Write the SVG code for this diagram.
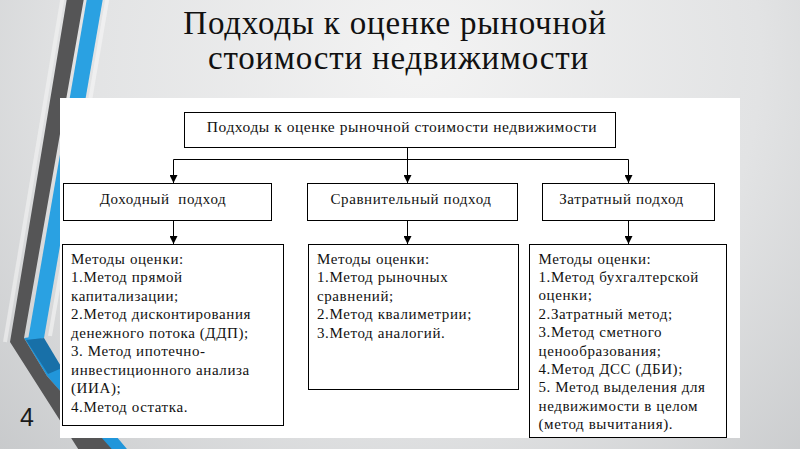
<svg xmlns="http://www.w3.org/2000/svg" width="800" height="449" viewBox="0 0 800 449">
  <defs>
    <radialGradient id="bg" cx="420" cy="60" r="620" gradientUnits="userSpaceOnUse">
      <stop offset="0" stop-color="#f3f3f3"/>
      <stop offset="0.55" stop-color="#e2e3e4"/>
      <stop offset="1" stop-color="#c3c5c7"/>
    </radialGradient>
    <marker id="arr" markerUnits="userSpaceOnUse" viewBox="0 0 8 8" refX="8" refY="4" markerWidth="8" markerHeight="8" orient="auto">
      <path d="M0,0 L8,4 L0,8 z" fill="#000"/>
    </marker>
    <style>
      .box { fill: #fff; stroke: #000; stroke-width: 1; }
      .lbl { font-size: 15px; letter-spacing: 0.6px; fill: #111; }
      .top { font-size: 15.5px; letter-spacing: 0.55px; }
      .ctr { text-anchor: middle; }
      .con { fill: none; stroke: #000; stroke-width: 1; }
      .title { font-size: 33px; letter-spacing: 0.8px; fill: #111; text-anchor: middle; }
    </style>
  </defs>

  <!-- background -->
  <rect x="0" y="0" width="800" height="449" fill="url(#bg)"/>

  <!-- decorative stripes -->
  <g id="decor">
    <polyline points="63,-5 5,342" fill="none" stroke="#f4f4f4" stroke-width="4" opacity="0.6"/>
    <polyline points="108,-5 50,336" fill="none" stroke="#f6f6f6" stroke-width="4" opacity="0.6"/>
    <polygon points="40,336 62,372 132,455 116,455 47,376 24,338" fill="#2196da"/>
    <polygon points="87,-2 103,-2 44,338 28,340" fill="#2aa1e2"/>
    <polygon points="26,340 44,338 62,368 48,374" fill="#1870a8"/>
    <polygon points="67,-2 84,-2 24,338 47,376 117,455 82,455 10,342" fill="#555556"/>
  </g>

  <!-- white panel -->
  <rect x="60" y="98" width="680" height="340" fill="#fff"/>

  <g font-family="Liberation Serif, Times New Roman, serif">
  <!-- title -->
  <g id="title">
    <text class="title" x="395" y="33.5">Подходы к оценке рыночной</text>
    <text class="title" x="398.5" y="68.5">стоимости недвижимости</text>
  </g>

  <!-- nodes -->
  <g id="root">
    <rect class="box" x="184.5" y="112.5" width="431" height="35"/>
    <text class="lbl top ctr" x="402" y="132">Подходы к оценке рыночной стоимости недвижимости</text>
  </g>

  <g id="income">
    <rect class="box" x="63.5" y="183.5" width="208" height="37"/>
    <text class="lbl ctr" x="163" y="203.5" xml:space="preserve">Доходный  подход</text>
  </g>
  <g id="comparative">
    <rect class="box" x="307.5" y="183.5" width="210" height="37"/>
    <text class="lbl ctr" x="411" y="203.5">Сравнительный подход</text>
  </g>
  <g id="cost">
    <rect class="box" x="542.5" y="183.5" width="172" height="37"/>
    <text class="lbl ctr" x="621.5" y="203.5">Затратный подход</text>
  </g>

  <g id="income-methods">
    <rect class="box" x="62.5" y="244.5" width="221" height="181"/>
    <text class="lbl" x="71" y="263.5">
      <tspan x="71" y="263.5">Методы оценки:</tspan>
      <tspan x="71" y="282">1.Метод прямой</tspan>
      <tspan x="71" y="300.5">капитализации;</tspan>
      <tspan x="71" y="319">2.Метод дисконтирования</tspan>
      <tspan x="71" y="337.5">денежного потока (ДДП);</tspan>
      <tspan x="71" y="356">3. Метод ипотечно-</tspan>
      <tspan x="71" y="374.5">инвестиционного анализа</tspan>
      <tspan x="71" y="393">(ИИА);</tspan>
      <tspan x="71" y="411.5">4.Метод остатка.</tspan>
    </text>
  </g>

  <g id="comparative-methods">
    <rect class="box" x="308.5" y="244.5" width="210" height="145"/>
    <text class="lbl" x="317" y="263.5">
      <tspan x="317" y="263.5">Методы оценки:</tspan>
      <tspan x="317" y="282">1.Метод рыночных</tspan>
      <tspan x="317" y="300.5">сравнений;</tspan>
      <tspan x="317" y="319">2.Метод квалиметрии;</tspan>
      <tspan x="317" y="337.5">3.Метод аналогий.</tspan>
    </text>
  </g>

  <g id="cost-methods">
    <rect class="box" x="529.5" y="244.5" width="197" height="193"/>
    <text class="lbl" x="538.5" y="263.5">
      <tspan x="538.5" y="263.5">Методы оценки:</tspan>
      <tspan x="538.5" y="281.9">1.Метод бухгалтерской</tspan>
      <tspan x="538.5" y="300.3">оценки;</tspan>
      <tspan x="538.5" y="318.7">2.Затратный метод;</tspan>
      <tspan x="538.5" y="337.1">3.Метод сметного</tspan>
      <tspan x="538.5" y="355.5">ценообразования;</tspan>
      <tspan x="538.5" y="373.9">4.Метод ДСС (ДБИ);</tspan>
      <tspan x="538.5" y="392.3">5. Метод выделения для</tspan>
      <tspan x="538.5" y="410.7">недвижимости в целом</tspan>
      <tspan x="538.5" y="429.1">(метод вычитания).</tspan>
    </text>
  </g>
  </g>

  <!-- slide number -->
  <text x="20" y="426" font-family="Liberation Sans, Arial, sans-serif" font-size="25" fill="#1a1a1a">4</text>

  <!-- connectors -->
  <g id="connectors">
    <path class="con" d="M173.5,159.5 H628.5"/>
    <path class="con" d="M407.5,147 V183" marker-end="url(#arr)"/>
    <path class="con" d="M173.5,159.5 V183" marker-end="url(#arr)"/>
    <path class="con" d="M628.5,159.5 V183" marker-end="url(#arr)"/>
    <path class="con" d="M173.5,221 V244" marker-end="url(#arr)"/>
    <path class="con" d="M407.5,221 V244" marker-end="url(#arr)"/>
    <path class="con" d="M628.5,221 V244" marker-end="url(#arr)"/>
  </g>
</svg>
